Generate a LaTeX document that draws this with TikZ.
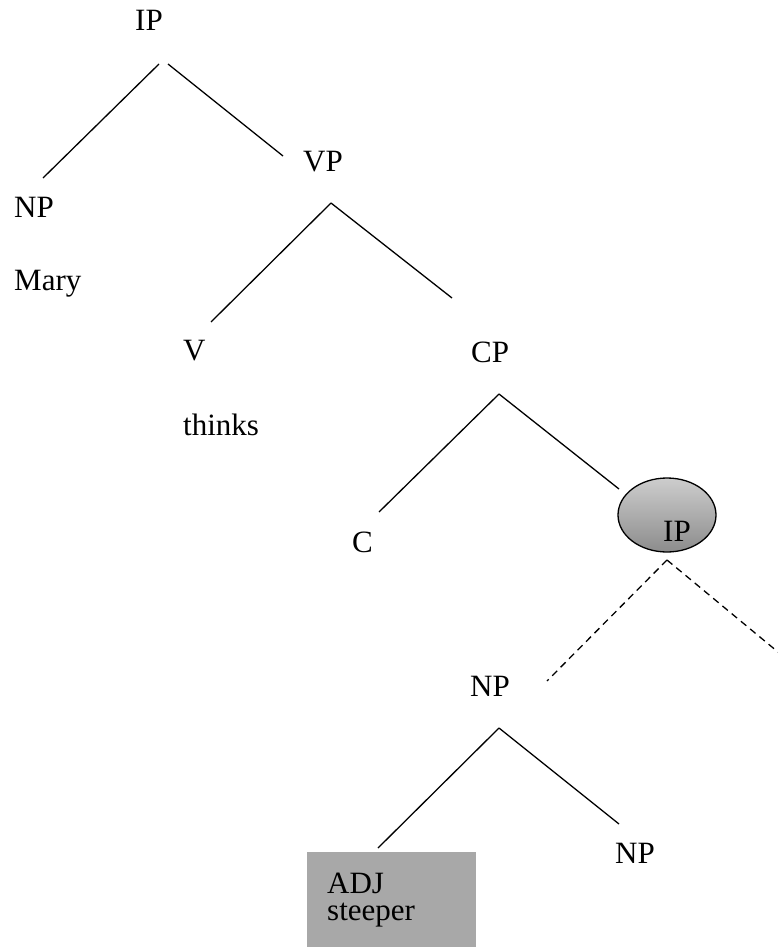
\documentclass[tikz,border=0pt]{standalone}
\usepackage{fontspec}
\setmainfont{Liberation Serif}
\usetikzlibrary{shapes.geometric}
\definecolor{boxgray}{RGB}{168,168,168}
\definecolor{elltop}{RGB}{205,205,205}
\definecolor{ellbot}{RGB}{140,140,140}
\begin{document}
\begin{tikzpicture}[x=1pt,y=-1pt,
  lbl/.style={anchor=base west,inner sep=0pt,font=\fontsize{31}{36}\selectfont},
  branch/.style={line width=1.3pt},
  dashbranch/.style={line width=1.3pt,dash pattern=on 7pt off 5pt}]
\useasboundingbox (0,0) rectangle (778,947);
% labels
\node[lbl] (ip1) at (135,31) {IP};
\node[lbl] (vp) at (303,171) {VP};
\node[lbl] (np1) at (14,217) {NP};
\node[lbl] (mary) at (14,290) {Mary};
\node[lbl] (v) at (183,360) {V};
\node[lbl] (thinks) at (183,435) {thinks};
\node[lbl] (cp) at (471,362) {CP};
\node[lbl] (c) at (352,552) {C};
% shaded IP ellipse
\node[ellipse,draw,line width=1.3pt,minimum width=98pt,minimum height=74pt,
  top color=elltop,bottom color=ellbot] (ipell) at (667,515) {};
\node[lbl] (ip2) at (663,541) {IP};
\node[lbl] (np2) at (470,696) {NP};
\node[lbl] (np3) at (615,863) {NP};
% ADJ box
\fill[boxgray] (307,852) rectangle (476,947);
\node[lbl,align=left,font=\fontsize{31}{27}\selectfont] (adj) at (327,920) {ADJ\\steeper};
% connector end points
\coordinate (ip1l) at (159,64);
\coordinate (ip1r) at (168,64);
\coordinate (np1t) at (43,178);
\coordinate (vpt) at (283,156);
\coordinate (vpb) at (331,203);
\coordinate (vt) at (211,322);
\coordinate (cpt) at (452,298);
\coordinate (cpb) at (499,394);
\coordinate (ct) at (379,512);
\coordinate (ipellt) at (619,489);
\coordinate (ipellb) at (667,560);
\coordinate (np2t) at (547,681);
\coordinate (offr) at (778,652);
\coordinate (np2b) at (499,728);
\coordinate (adjt) at (378,848);
\coordinate (np3t) at (619,824);
% connectors
\draw[branch] (ip1l) -- (np1t);
\draw[branch] (ip1r) -- (vpt);
\draw[branch] (vpb) -- (vt);
\draw[branch] (vpb) -- (cpt);
\draw[branch] (cpb) -- (ct);
\draw[branch] (cpb) -- (ipellt);
\draw[dashbranch] (ipellb) -- (np2t);
\draw[dashbranch] (ipellb) -- (offr);
\draw[branch] (np2b) -- (adjt);
\draw[branch] (np2b) -- (np3t);
\end{tikzpicture}
\end{document}
